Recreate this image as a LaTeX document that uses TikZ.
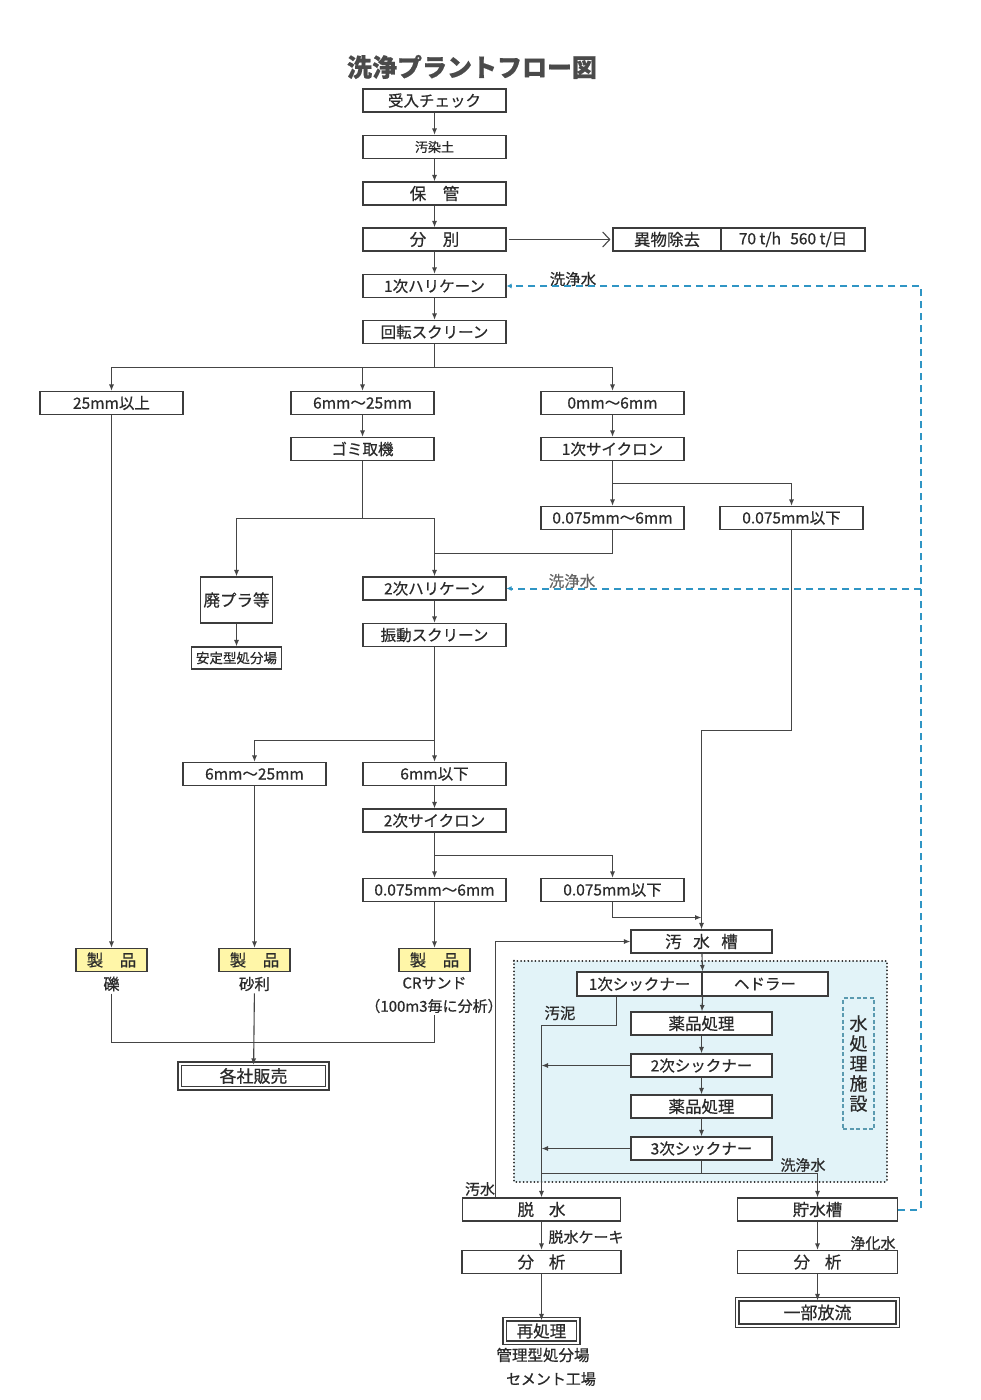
\documentclass[tikz,border=0pt]{standalone}
\usepackage{fontspec}
\setmainfont{Noto Sans CJK JP}[FakeBold=0.6]
\usetikzlibrary{arrows.meta}
\definecolor{lncol}{HTML}{454545}
\definecolor{boxcol}{HTML}{3C3C3C}
\definecolor{txtcol}{HTML}{2A2A2A}
\definecolor{titlecol}{HTML}{4A4A4A}
\definecolor{bluec}{HTML}{2F95C4}
\definecolor{yellowc}{HTML}{FFF6A8}
\definecolor{areacol}{HTML}{E2F3F8}
\definecolor{mizucol}{HTML}{5A9AB0}
\newcommand{\myfs}[1]{\fontsize{#1pt}{#1pt}\selectfont}
\tikzset{
  bx/.style={draw=boxcol, line width=1.1pt, fill=white, minimum height=23pt,
    inner sep=0pt, text=txtcol, font=\myfs{15.5}},
  w143/.style={minimum width=143pt},
  ln/.style={draw=lncol, line width=1.1pt},
  arr/.style={ln, -{Latex[length=6.5pt,width=5pt]}},
  dsh/.style={draw=bluec, line width=2pt, dash pattern=on 7pt off 5pt},
  darr/.style={dsh, -{Latex[length=5pt,width=5pt]}},
  lbl/.style={inner sep=0pt, text=txtcol, font=\myfs{15}},
  prod/.style={bx, fill=yellowc, minimum width=71pt, font=\myfs{16.5}},
  outerbox/.style={draw=boxcol, line width=1.5pt},
}
\begin{document}
\begin{tikzpicture}[x=1pt,y=-1pt]
\fill[white] (0,0) rectangle (980,1400);
\useasboundingbox (0,0) rectangle (980,1400);

% title
\node[font=\fontsize{25pt}{25pt}\selectfont\bfseries, text=titlecol] (title) at (472,67) {洗浄プラントフロー図};

% water treatment area
\draw[fill=areacol, draw=black!85, line width=2pt, line cap=round, dash pattern=on 0.01pt off 3.6pt] (513.5,960.5) rectangle (886.5,1181.5);

% main column
\node[bx,w143] (ukeire) at (434.5,100.5) {受入チェック};
\node[bx,w143,font=\myfs{13}] (osen) at (434.5,147) {汚染土};
\node[bx,w143,font=\myfs{16.5}] (hokan) at (434.5,193.5) {保　管};
\node[bx,w143,font=\myfs{16.5}] (bunbetsu) at (434.5,239.5) {分　別};
\node[bx,w143] (h1) at (434.5,286) {1次ハリケーン};
\node[bx,w143] (kaiten) at (434.5,332) {回転スクリーン};
\node[bx,minimum width=108pt,font=\myfs{16.5}] (ibutsu) at (667,239.5) {異物除去};
\node[bx,minimum width=144pt] (rate) at (793,239.5) {70 t/h\hspace{0.6em}560 t/日};

% size split
\node[bx,w143] (s25) at (111.5,403) {25mm以上};
\node[bx,w143] (s6a) at (362.5,403) {6mm～25mm};
\node[bx,w143] (s0) at (612.5,403) {0mm～6mm};
\node[bx,w143] (gomi) at (362.5,449) {ゴミ取機};
\node[bx,w143] (c1) at (612.5,449) {1次サイクロン};
\node[bx,w143] (f1) at (612.5,518) {0.075mm～6mm};
\node[bx,w143] (f2) at (791.5,518) {0.075mm以下};
\node[bx,minimum width=72pt,minimum height=46pt,font=\myfs{16.5}] (haipura) at (236.5,600) {廃プラ等};
\node[bx,minimum width=90pt,minimum height=22pt,font=\myfs{13.5}] (antei) at (236.5,658) {安定型処分場};
\node[bx,w143] (h2) at (434.5,588.5) {2次ハリケーン};
\node[bx,w143] (shindo) at (434.5,635) {振動スクリーン};
\node[bx,w143] (s6b) at (254.5,774) {6mm～25mm};
\node[bx,w143] (s6c) at (434.5,774) {6mm以下};
\node[bx,w143] (c2) at (434.5,820.5) {2次サイクロン};
\node[bx,w143] (g1) at (434.5,890) {0.075mm～6mm};
\node[bx,w143] (g2) at (612.5,890) {0.075mm以下};

% products
\node[prod] (p1) at (111.5,960) {製　品};
\node[prod] (p2) at (254.5,960) {製　品};
\node[prod] (p3) at (434.5,960) {製　品};
\node[lbl,font=\myfs{16},inner sep=2pt] (l1) at (111.5,984) {礫};
\node[lbl,font=\myfs{15.5},inner sep=2pt] (l2) at (254.5,984) {砂利};
\node[lbl,font=\myfs{15}] (l3) at (434.5,983) {CRサンド};
\node[lbl,font=\myfs{15},inner sep=2pt] (l4) at (434,1006) {（100m3毎に分析）};
\node[bx,minimum width=144pt,minimum height=21pt,font=\myfs{17}] (hanbai) at (253.5,1076) {各社販売};
\draw[outerbox] ([shift={(-3,-3)}]hanbai.north west) rectangle ([shift={(3,3)}]hanbai.south east);

% water treatment
\node[bx,minimum width=141pt,font=\myfs{16.5}] (osui) at (701.5,941.5) {汚\hspace{0.7em}水\hspace{0.7em}槽};
\node[bx,minimum width=125pt,minimum height=24pt] (th1) at (639.5,984) {1次シックナー};
\node[bx,minimum width=126pt,minimum height=24pt] (hed) at (765,984) {ヘドラー};
\node[bx,minimum width=141pt,font=\myfs{16.5}] (y1) at (701.5,1023.5) {薬品処理};
\node[bx,minimum width=141pt] (th2) at (701.5,1065.5) {2次シックナー};
\node[bx,minimum width=141pt,font=\myfs{16.5}] (y2) at (701.5,1106.5) {薬品処理};
\node[bx,minimum width=141pt] (th3) at (701.5,1148.5) {3次シックナー};
\node[draw=mizucol, line width=1.1pt, dash pattern=on 4pt off 2.5pt, minimum width=31pt, minimum height=131pt,
  inner sep=0pt, align=center, text=txtcol, font=\fontsize{18pt}{20pt}\selectfont] (mizu) at (858.5,1063.5) {水\\処\\理\\施\\設};

\node[bx,minimum width=158pt,font=\myfs{16.5}] (dassui) at (541.5,1209.5) {脱\hspace{0.9em}水};
\node[bx,minimum width=159pt,font=\myfs{16.5}] (bun1) at (541.5,1262) {分\hspace{0.9em}析};
\node[bx,minimum width=70pt,minimum height=20pt,font=\myfs{16.5}] (sai) at (541.5,1331) {再処理};
\draw[outerbox] ([shift={(-3,-3)}]sai.north west) rectangle ([shift={(3,3)}]sai.south east);
\node[lbl,font=\myfs{15.5}] (kanri) at (543,1355) {管理型処分場};
\node[lbl,font=\myfs{15}] (cement) at (551,1379) {セメント工場};
\node[bx,minimum width=160pt,font=\myfs{16.5}] (chosui) at (817.5,1209.5) {貯水槽};
\node[bx,minimum width=160pt,font=\myfs{16.5}] (bun2) at (817.5,1262) {分\hspace{0.9em}析};
\node[bx,minimum width=157pt,minimum height=23pt,font=\myfs{17}] (ichibu) at (817.5,1312.5) {一部放流};
\draw[outerbox] ([shift={(-3,-3)}]ichibu.north west) rectangle ([shift={(3,3)}]ichibu.south east);

% labels
\node[lbl,font=\myfs{15.5}] (w1) at (573,279) {洗浄水};
\node[lbl,font=\myfs{15.5},text=black!60] (w2) at (572,581) {洗浄水};
\node[lbl,font=\myfs{15.5}] (odei) at (560,1013) {汚泥};
\node[lbl] (w3) at (803,1165) {洗浄水};
\node[lbl] (osuil) at (480,1189) {汚水};
\node[lbl] (cake) at (586,1237) {脱水ケーキ};
\node[lbl] (jouka) at (873,1243) {浄化水};

% coordinates
\coordinate (j1) at (434.5,367.5);
\coordinate (j2) at (612.5,483.5);
\coordinate (j3) at (362.5,518.5);
\coordinate (j4) at (434.5,553.5);
\coordinate (j5) at (434.5,740.5);
\coordinate (j6) at (434.5,855.5);
\coordinate (k1) at (434.5,1042.5);
\coordinate (k2) at (791.5,730.5);
\coordinate (k3) at (701.5,917.5);
\coordinate (k4) at (701.5,1173.5);
\coordinate (k5) at (495.5,941.5);
\coordinate (m1) at (616.5,1025.5);
\coordinate (m2) at (541.5,1025.5);
\coordinate (d1) at (921,286);
\coordinate (d2) at (921,588.5);
\coordinate (d3) at (921,1209.5);

% main chain
\draw[arr] (ukeire) -- (osen);
\draw[arr] (osen) -- (hokan);
\draw[arr] (hokan) -- (bunbetsu);
\draw[arr] (bunbetsu) -- (h1);
\draw[arr] (h1) -- (kaiten);
\draw[ln, -{Straight Barb[length=7pt,width=15pt,line width=1.1pt]}, shorten <=2pt, shorten >=2pt] (bunbetsu) -- (ibutsu);

% after rotary screen
\draw[ln] (kaiten) -- (j1);
\draw[arr] (j1) -| (s25);
\draw[arr] (j1) -| (s6a);
\draw[arr] (j1) -| (s0);
\draw[arr] (s6a) -- (gomi);
\draw[arr] (s0) -- (c1);
\draw[ln] (c1) -- (j2);
\draw[arr] (j2) -- (f1);
\draw[arr] (j2) -| (f2);
\draw[ln] (gomi) -- (j3);
\draw[arr] (j3) -| (haipura);
\draw[arr] (j3) -| (h2);
\draw[ln] (f1) |- (j4);
\draw[arr] (haipura) -- (antei);
\draw[arr] (h2) -- (shindo);
\draw[ln, line width=1.6pt] (shindo) -- (j5);
\draw[arr] (j5) -| (s6b);
\draw[arr] (j5) -- (s6c);
\draw[arr] (s6c) -- (c2);
\draw[ln] (c2) -- (j6);
\draw[arr] (j6) -- (g1);
\draw[arr] (j6) -| (g2);
\draw[arr] (s25) -- (p1);
\draw[arr] (s6b) -- (p2);
\draw[arr] (g1) -- (p3);
\draw[ln] (l1) |- (k1);
\draw[ln] (l4.south -| k1) -- (k1);
\draw[arr] (l2) -- (hanbai);

% fines to waste water tank
\draw[arr] (f2) -- (k2) -| (osui);
\draw[arr] (g2) |- (k3);

% water treatment flow
\draw[arr] (osui) -- (th1.north east);
\draw[arr] (th1.south east) -- (y1);
\draw[arr] (y1) -- (th2);
\draw[arr] (th2) -- (y2);
\draw[arr] (y2) -- (th3);
\draw[arr] (m1 |- th1.south) -- (m1) -- (m2) -- (dassui);
\draw[arr] (th2) -- (th2 -| m2);
\draw[arr] (th3) -- (th3 -| m2);
\draw[ln] (th3) -- (k4);
\draw[arr] (m2 |- k4) -| (chosui);
\draw[arr] (dassui.north -| k5) -- (k5) -- (osui);
\draw[arr] (dassui) -- (bun1);
\draw[arr] (bun1) -- (sai);
\draw[arr] (chosui) -- (bun2);
\draw[arr] (bun2) -- (ichibu);

% wash water return
\draw[darr] (chosui) -- (d3) -- (d1) -- (h1);
\draw[darr] (d2) -- (h2);
\end{tikzpicture}
\end{document}
